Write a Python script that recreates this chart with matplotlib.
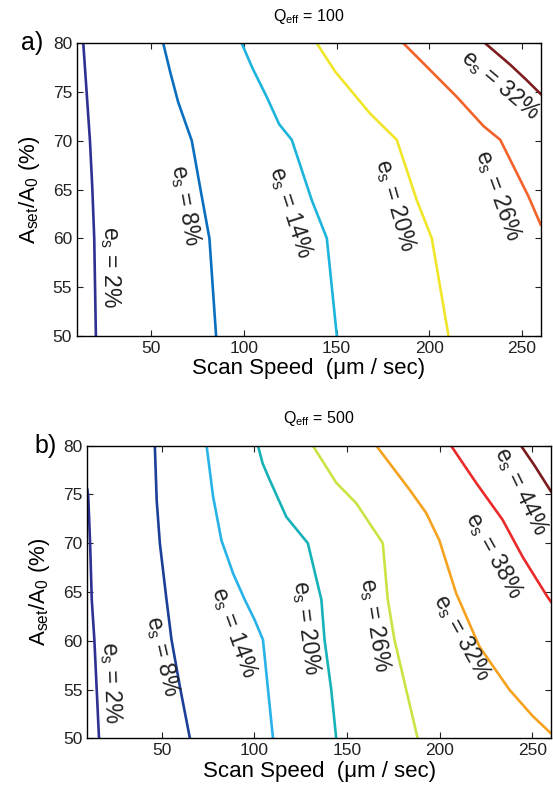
import matplotlib
matplotlib.use("Agg")
import matplotlib.pyplot as plt

plt.rcParams['font.family'] = ['Liberation Sans', 'DejaVu Sans']
plt.rcParams['mathtext.fontset'] = 'custom'
plt.rcParams['mathtext.rm'] = 'Liberation Sans'
plt.rcParams['mathtext.it'] = 'Liberation Sans:italic'

# Q_eff = 100 : error contours (scan speed, setpoint ratio)
a_x_02 = [13.4, 15.2, 17.0, 18.3, 19.3, 20.2]
a_y_02 = [80, 75, 70, 65, 60, 50]
a_x_08 = [56.5, 60.2, 64.5, 71.9, 76.6, 81.4, 85.0]
a_y_08 = [80, 77.1, 74, 70, 65, 60, 50]
a_x_14 = [98.8, 104.5, 112.3, 119.0, 125.8, 136.6, 144.7, 150.1]
a_y_14 = [80, 77.5, 74.5, 71.7, 70.1, 63.9, 60, 50]
a_x_20 = [139.3, 149.2, 168.0, 182.4, 193.2, 201.3, 210.3]
a_y_20 = [80, 77.1, 72.8, 70.1, 63.9, 60, 50]
a_x_26 = [186.0, 198.6, 214.8, 229.2, 238.2, 253.4, 260.0]
a_y_26 = [80, 77.6, 74.5, 71.5, 70.1, 64.3, 61.4]
a_x_32 = [230.1, 243.6, 252.0, 260.0]
a_y_32 = [80, 77.8, 76.3, 74.8]

# Q_eff = 500
b_x_02 = [10.0, 10.5, 11.5, 12.4, 13.8, 16.3]
b_y_02 = [75.5, 74.8, 70, 64.2, 60.1, 50]
b_x_08 = [46.4, 47.4, 49.1, 52.7, 55.4, 59.9, 65.3]
b_y_08 = [80, 74.4, 70, 64.2, 60.1, 55.3, 50]
b_x_14 = [74.3, 77.8, 82.3, 88.6, 94.9, 100.3, 104.7, 110.1]
b_y_14 = [80, 74.8, 70.3, 66.9, 64.2, 62.1, 60.1, 50]
b_x_20 = [102.0, 104.5, 108.3, 117.3, 128.9, 136.2, 137.9, 141.5, 144.2]
b_y_20 = [80, 78.2, 76.5, 72.7, 70, 64.2, 60.1, 55, 50]
b_x_26 = [131.6, 144.2, 155.0, 169.3, 172.0, 175.6, 181.9, 188.1]
b_y_26 = [80, 76.2, 74.1, 70, 64.2, 60.1, 55, 50]
b_x_32 = [165.8, 183.7, 192.7, 199.8, 208.8, 221.4, 237.5, 250.0, 260.0]
b_y_32 = [80, 75.5, 73.1, 70.3, 64.9, 59.4, 55, 52.3, 50.5]
b_x_38 = [206.1, 219.6, 233.9, 244.7, 258.1, 260.0]
b_y_38 = [80, 76.2, 72.4, 68.6, 64.5, 64.0]
b_x_44 = [243.8, 251.0, 259.0, 260.0]
b_y_44 = [80, 78.0, 75.6, 75.3]

a_levels = [2, 8, 14, 20, 26, 32]
a_colors = ['#2e3192', '#0a6fbf', '#1db4dc', '#f0e629', '#f2622a', '#7e1d1d']
a_lines = [(a_x_02, a_y_02), (a_x_08, a_y_08), (a_x_14, a_y_14),
           (a_x_20, a_y_20), (a_x_26, a_y_26), (a_x_32, a_y_32)]
# label centre (x, y) and angle for each contour
a_lab_x = [27.8, 68.3, 124.9, 181.5, 237.1, 238.2]
a_lab_y = [57.1, 63.4, 62.7, 63.4, 64.4, 75.7]
a_lab_rot = [-90, -80, -72, -74, -70, -40]

b_levels = [2, 8, 14, 20, 26, 32, 38, 44]
b_colors = ['#2e3192', '#1c3f99', '#27b3e8', '#16b2b8', '#cde244',
            '#f5a21f', '#ea2a2a', '#7b1c1c']
b_lines = [(b_x_02, b_y_02), (b_x_08, b_y_08), (b_x_14, b_y_14),
           (b_x_20, b_y_20), (b_x_26, b_y_26), (b_x_32, b_y_32),
           (b_x_38, b_y_38), (b_x_44, b_y_44)]
b_lab_x = [22.8, 50.3, 89.0, 128.1, 164.8, 212.0, 229.4, 243.8]
b_lab_y = [55.7, 58.4, 60.9, 61.4, 61.6, 60.3, 68.8, 75.3]
b_lab_rot = [-88, -77, -70, -83, -81, -61, -61, -64]


def draw_panel(ax, lines, colors, levels, lx, ly, rot, q, letter, letter_x):
    for (xs, ys), c in zip(lines, colors):
        ax.plot(xs, ys, color=c, lw=1.9, solid_joinstyle='miter')
    for lev, x, y, r in zip(levels, lx, ly, rot):
        ax.text(x, y, r'$\mathregular{e_s}$ = %d%%' % lev, rotation=r,
                rotation_mode='anchor', ha='center', va='center',
                fontsize=16.5, color='#222222')
    ax.set_xlim(10, 260)
    ax.set_ylim(50, 80)
    ax.set_xticks([50, 100, 150, 200, 250])
    ax.set_yticks([50, 55, 60, 65, 70, 75, 80])
    ax.tick_params(direction='in', top=True, right=True, length=4,
                   labelsize=12.5, width=0.8, colors='#222222')
    for s in ax.spines.values():
        s.set_linewidth(1.0)
    ax.set_xlabel(u'Scan Speed  (\u03bcm / sec)', fontsize=16, labelpad=2)
    ax.set_ylabel(r'$\mathregular{A_{set}/A_0}$ (%)', fontsize=16, labelpad=8)
    ax.set_title(r'$\mathregular{Q_{eff}}$ = %d' % q, fontsize=11.5, pad=16)
    ax.text(letter_x, 1.0, letter, transform=ax.transAxes, fontsize=18,
            ha='right', va='center')


fig = plt.figure(figsize=(5.53, 7.87), dpi=100)
ax1 = fig.add_axes([0.1392, 0.5734, 0.8385, 0.3716])
ax2 = fig.add_axes([0.1579, 0.0619, 0.8385, 0.3718])

draw_panel(ax1, a_lines, a_colors, a_levels, a_lab_x, a_lab_y, a_lab_rot,
           100, 'a)', -0.073)
draw_panel(ax2, b_lines, b_colors, b_levels, b_lab_x, b_lab_y, b_lab_rot,
           500, 'b)', -0.065)

fig.savefig('out.png', dpi=100)
